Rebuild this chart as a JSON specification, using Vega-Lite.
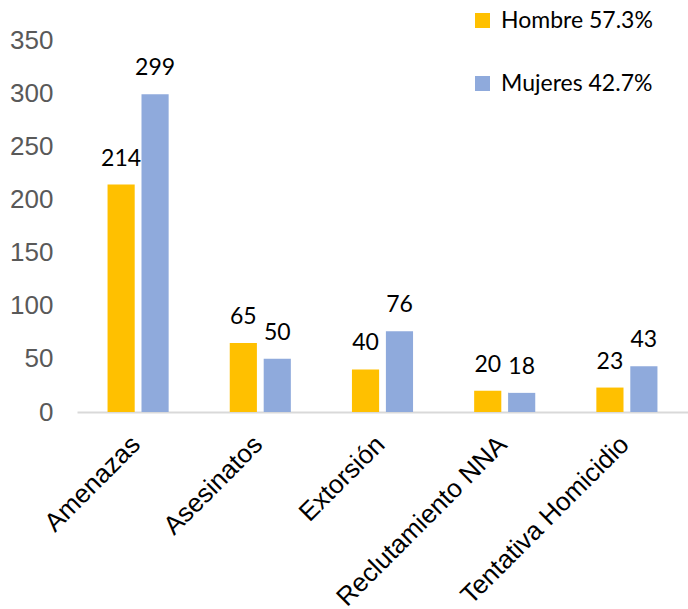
{
  "$schema": "https://vega.github.io/schema/vega-lite/v6.json",
  "width": 611,
  "height": 372,
  "autosize": {"type": "none"},
  "padding": {"left": 77, "top": 40, "right": 0, "bottom": 197},
  "background": "white",
  "config": {"view": {"stroke": null}},
  "data": {
    "values": [
      {"categoria": "Amenazas", "sexo": "Hombre 57.3%", "valor": 214},
      {"categoria": "Amenazas", "sexo": "Mujeres 42.7%", "valor": 299},
      {"categoria": "Asesinatos", "sexo": "Hombre 57.3%", "valor": 65},
      {"categoria": "Asesinatos", "sexo": "Mujeres 42.7%", "valor": 50},
      {"categoria": "Extorsión", "sexo": "Hombre 57.3%", "valor": 40},
      {"categoria": "Extorsión", "sexo": "Mujeres 42.7%", "valor": 76},
      {"categoria": "Reclutamiento NNA", "sexo": "Hombre 57.3%", "valor": 20},
      {"categoria": "Reclutamiento NNA", "sexo": "Mujeres 42.7%", "valor": 18},
      {"categoria": "Tentativa Homicidio", "sexo": "Hombre 57.3%", "valor": 23},
      {"categoria": "Tentativa Homicidio", "sexo": "Mujeres 42.7%", "valor": 43}
    ]
  },
  "encoding": {
    "x": {
      "field": "categoria",
      "type": "nominal",
      "sort": null,
      "scale": {"paddingInner": 0.5, "paddingOuter": 0.25},
      "axis": {
        "title": null,
        "labelAngle": -45,
        "labelAlign": "right",
        "labelBaseline": "middle",
        "labelFont": "Liberation Sans",
        "labelFontSize": 26,
        "labelColor": "#000000",
        "labelPadding": 28,
        "labelOffset": -2,
        "ticks": false,
        "domainColor": "#d9d9d9",
        "domainWidth": 2,
        "labelOverlap": false,
        "labelLimit": 400
      }
    },
    "xOffset": {"field": "sexo", "type": "nominal", "scale": {"paddingInner": 0.2}},
    "y": {
      "field": "valor",
      "type": "quantitative",
      "scale": {"domain": [0, 350], "nice": false},
      "axis": {
        "title": null,
        "values": [0, 50, 100, 150, 200, 250, 300, 350],
        "grid": false,
        "domain": false,
        "ticks": false,
        "labelFont": "Liberation Sans",
        "labelFontSize": 26,
        "labelColor": "#595959",
        "labelPadding": 24
      }
    }
  },
  "layer": [
    {
      "mark": {"type": "bar"},
      "encoding": {
        "color": {
          "field": "sexo",
          "type": "nominal",
          "scale": {"domain": ["Hombre 57.3%", "Mujeres 42.7%"], "range": ["#FFC000", "#8FAADC"]},
          "legend": {
            "title": null,
            "orient": "none",
            "legendX": 394,
            "legendY": -31,
            "symbolType": "square",
            "symbolSize": 225,
            "symbolStrokeWidth": 0,
            "labelFont": "Lato",
            "labelFontSize": 23,
            "labelColor": "#000000",
            "rowPadding": 39,
            "labelOffset": 7
          }
        }
      }
    },
    {
      "mark": {"type": "text", "baseline": "bottom", "dy": -14, "font": "Lato", "fontSize": 23, "color": "#000000"},
      "encoding": {"text": {"field": "valor", "type": "quantitative"}}
    }
  ]
}
